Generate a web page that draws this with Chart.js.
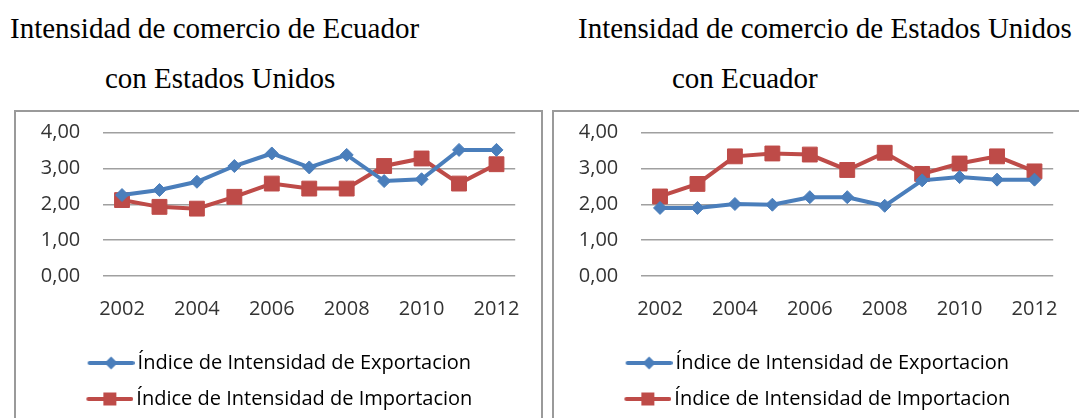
<!DOCTYPE html>
<html>
<head>
<meta charset="utf-8">
<script src="https://cdn.jsdelivr.net/npm/chart.js@4/dist/chart.umd.min.js"></script>
<style>
  html, body { margin: 0; padding: 0; background: #fff; }
  body { width: 1079px; height: 418px; position: relative; overflow: hidden; }
  .title { position: absolute; font-family: "Liberation Serif", "Times New Roman", serif; font-size: 29px; line-height: 29px; color: #000; white-space: nowrap; }
  .box { position: absolute; border: 2px solid #9a9a9a; box-sizing: border-box; }
  canvas { position: absolute; }
</style>
</head>
<body>
<div class="title" style="left:10px; top:14px;">Intensidad de comercio de Ecuador</div>
<div class="title" style="left:105px; top:64px;">con Estados Unidos</div>
<div class="title" style="left:578px; top:14px;">Intensidad de comercio de Estados Unidos</div>
<div class="title" style="left:672px; top:64px;">con Ecuador</div>

<div class="box" style="left:14px; top:110px; width:529px; height:320px;"></div>
<div class="box" style="left:552px; top:110px; width:540px; height:320px;"></div>

<canvas id="c1" width="527" height="308" style="left:15px; top:111px; width:527px; height:308px;"></canvas>
<canvas id="c2" width="527" height="308" style="left:553px; top:111px; width:527px; height:308px;"></canvas>

<script>
// ---- data ----
const years = ['2002','2003','2004','2005','2006','2007','2008','2009','2010','2011','2012'];
const seriesNames = ['Índice de Intensidad de Exportacion', 'Índice de Intensidad de Importacion'];
const ecuExport = [2.26, 2.40, 2.63, 3.07, 3.42, 3.03, 3.38, 2.65, 2.70, 3.52, 3.52];
const ecuImport = [2.12, 1.93, 1.88, 2.21, 2.58, 2.44, 2.44, 3.07, 3.28, 2.58, 3.12];
const usaExport = [1.90, 1.90, 2.01, 1.99, 2.20, 2.20, 1.96, 2.67, 2.76, 2.69, 2.69];
const usaImport = [2.22, 2.57, 3.34, 3.42, 3.39, 2.96, 3.44, 2.85, 3.14, 3.34, 2.92];
const yMin = 0, yMax = 4, yStep = 1;

// ---- styles ----
const BLUE = '#4a7ebb';
const RED = '#be4b48';
const FONT = '"Open Sans", "Liberation Sans", sans-serif';
const TEXT = '#333333';

// legend swatch: transparent left part, then line with marker (47px)
function legendIcon(color, shape) {
  const c = document.createElement('canvas');
  c.width = 81; c.height = 20;
  const g = c.getContext('2d');
  const x0 = 34;
  g.strokeStyle = color; g.lineWidth = 4; g.lineCap = 'round';
  g.beginPath(); g.moveTo(x0 + 2, 10); g.lineTo(x0 + 45, 10); g.stroke();
  g.fillStyle = color;
  g.beginPath();
  const cx = x0 + 23.5;
  if (shape === 'diamond') {
    g.moveTo(cx, 3.5); g.lineTo(cx + 6.5, 10); g.lineTo(cx, 16.5); g.lineTo(cx - 6.5, 10); g.closePath();
  } else {
    g.rect(cx - 6.5, 3.5, 13, 13);
  }
  g.fill();
  return c;
}
const icons = [legendIcon(BLUE, 'diamond'), legendIcon(RED, 'square')];

function makeChart(id, exp, imp) {
  return new Chart(document.getElementById(id), {
    type: 'line',
    data: {
      labels: years,
      datasets: [
        { label: seriesNames[0], data: exp, borderColor: BLUE, backgroundColor: BLUE,
          borderWidth: 4, pointStyle: 'rectRot', pointRadius: 6.5, pointBorderWidth: 1,
          pointBackgroundColor: BLUE, pointBorderColor: BLUE, tension: 0 },
        { label: seriesNames[1], data: imp, borderColor: RED, backgroundColor: RED,
          borderWidth: 4, pointStyle: 'rect', pointRadius: 10.5, pointBorderWidth: 1,
          pointBackgroundColor: RED, pointBorderColor: RED, tension: 0 }
      ]
    },
    options: {
      responsive: false,
      animation: false,
      devicePixelRatio: 1,
      layout: { padding: { top: 21.7, right: 25.3, left: 0, bottom: 0 } },
      plugins: {
        tooltip: { enabled: false },
        legend: {
          position: 'bottom',
          labels: {
            usePointStyle: true,
            pointStyleWidth: 67,
            boxHeight: 20,
            padding: 16,
            color: TEXT,
            font: { family: FONT, size: 20 },
            generateLabels: (chart) => chart.data.datasets.map((ds, i) => ({
              text: ds.label, pointStyle: icons[i], fillStyle: ds.borderColor,
              strokeStyle: ds.borderColor, lineWidth: 0, datasetIndex: i, hidden: false
            }))
          }
        }
      },
      scales: {
        x: {
          offset: true,
          border: { display: false },
          grid: { display: false, drawTicks: false },
          ticks: {
            autoSkip: false, maxRotation: 0, padding: 21.5, color: TEXT,
            font: { family: FONT, size: 20 },
            callback: (v, i) => (i % 2 === 0 ? years[i] : '')
          },
          afterFit: (s) => { s.height = 61; }
        },
        y: {
          min: yMin, max: yMax,
          border: { display: false },
          grid: { color: '#a0a0a0', lineWidth: 1.5, drawTicks: false },
          ticks: {
            stepSize: yStep, padding: 23, color: TEXT,
            font: { family: FONT, size: 20 },
            callback: (v) => Number(v).toFixed(2).replace('.', ',')
          },
          afterFit: (s) => { s.width = 88.3; s.paddingTop = 0; s.paddingBottom = 0; }
        }
      }
    }
  });
}

makeChart('c1', ecuExport, ecuImport);
makeChart('c2', usaExport, usaImport);
</script>
</body>
</html>
